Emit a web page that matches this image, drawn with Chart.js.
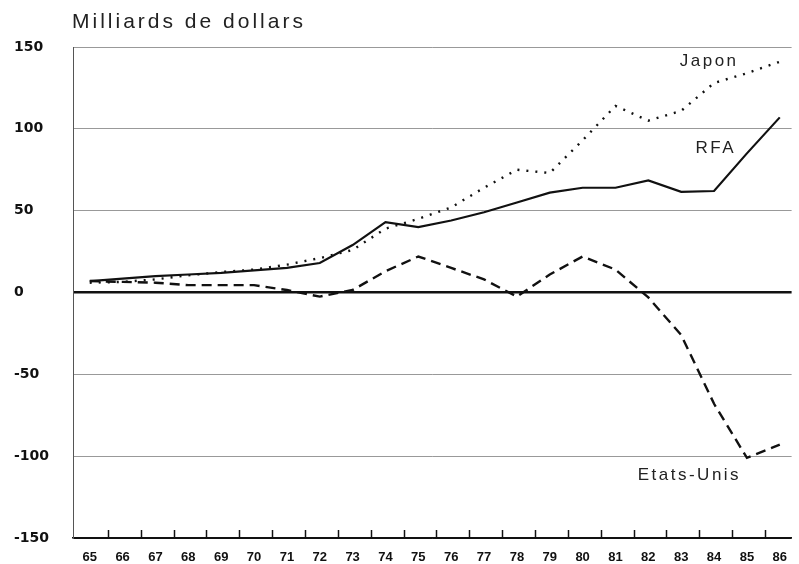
<!DOCTYPE html>
<html>
<head>
<meta charset="utf-8">
<script src="https://cdn.jsdelivr.net/npm/chart.js@4"></script>
<style>
  html, body { margin: 0; padding: 0; background: #fff; }
  #chart { display: block; }
</style>
</head>
<body>
<canvas id="chart" width="799" height="564"></canvas>
<script>
// données (milliards de dollars)
const years = [65, 66, 67, 68, 69, 70, 71, 72, 73, 74, 75, 76, 77, 78, 79, 80, 81, 82, 83, 84, 85, 86];
const rfa = [7, 8.5, 10, 11, 12, 13.5, 15, 18, 29, 43, 40, 44, 49, 55, 61, 64, 64, 68.5, 61.5, 62, 85, 107];
const japon = [6, 6.5, 8, 10.5, 12.5, 14, 17, 21, 26, 39, 45, 52, 64, 75, 73, 93, 114, 105, 111, 128, 134, 141];
const etatsUnis = [7, 6.5, 6, 4.5, 4.5, 4.5, 1.5, -2.5, 1.5, 13, 22, 15, 8, -2.5, 11, 22, 14, -3, -26, -68, -101, -93];
const yTicks = [-150, -100, -50, 0, 50, 100, 150];

const toPoints = arr => arr.map((v, i) => ({ x: years[i], y: v }));

// titre, noms des séries et petites marques de l'axe des x
const annotations = {
    id: 'annotations',
    afterDraw(chart) {
        const { ctx, chartArea, scales: { x, y } } = chart;
        ctx.save();
        ctx.fillStyle = '#222';
        ctx.textBaseline = 'middle';
        ctx.textAlign = 'left';
        ctx.letterSpacing = '3px';
        ctx.font = '21px "Liberation Sans", Arial, sans-serif';
        ctx.fillText('Milliards de dollars', 72, 22);

        ctx.letterSpacing = '2.5px';
        ctx.font = '17px "Liberation Sans", Arial, sans-serif';
        ctx.textAlign = 'center';
        ctx.fillText('Japon', x.getPixelForValue(83.85), y.getPixelForValue(141));
        ctx.fillText('RFA', x.getPixelForValue(84.05), y.getPixelForValue(88));
        ctx.fillText('Etats-Unis', x.getPixelForValue(83.25), y.getPixelForValue(-111.5));

        // marques verticales entre les années
        ctx.strokeStyle = '#111';
        ctx.lineWidth = 1.5;
        years.slice(0, -1).forEach(yr => {
            const px = Math.round(x.getPixelForValue(yr + 0.55)) + 0.5;
            ctx.beginPath();
            ctx.moveTo(px, chartArea.bottom);
            ctx.lineTo(px, chartArea.bottom - 8);
            ctx.stroke();
        });
        ctx.restore();
    }
};

const ctx = document.getElementById('chart').getContext('2d');
new Chart(ctx, {
    type: 'line',
    data: {
        datasets: [
            {
                label: 'RFA',
                data: toPoints(rfa),
                borderColor: '#111',
                borderWidth: 2.2,
                pointRadius: 0,
                tension: 0
            },
            {
                label: 'Japon',
                data: toPoints(japon),
                borderColor: '#111',
                borderWidth: 2.4,
                borderDash: [2, 7],
                pointRadius: 0,
                tension: 0
            },
            {
                label: 'Etats-Unis',
                data: toPoints(etatsUnis),
                borderColor: '#111',
                borderWidth: 2.4,
                borderDash: [10, 6],
                pointRadius: 0,
                tension: 0
            }
        ]
    },
    options: {
        responsive: false,
        animation: false,
        layout: {
            padding: { left: 14, top: 47, right: 0, bottom: 0 }
        },
        plugins: {
            legend: { display: false },
            tooltip: { enabled: false }
        },
        scales: {
            x: {
                type: 'linear',
                min: 64.49,
                max: 86.36,
                afterBuildTicks: scale => {
                    scale.ticks = years.map(v => ({ value: v }));
                },
                afterFit: scale => { scale.height = 26; },
                grid: { display: false, drawTicks: false },
                border: { display: true, color: '#111', width: 1.5 },
                ticks: {
                    autoSkip: false,
                    maxRotation: 0,
                    padding: 12,
                    color: '#111',
                    font: { family: '"Liberation Sans", Arial, sans-serif', size: 13, weight: 'bold' },
                    callback: v => String(v)
                }
            },
            y: {
                min: -150,
                max: 150,
                afterBuildTicks: scale => {
                    scale.ticks = yTicks.map(v => ({ value: v }));
                },
                afterFit: scale => { scale.width = 59; },
                grid: {
                    drawTicks: false,
                    color: c => c.tick.value === 0 ? '#111' : (c.tick.value === -150 ? '#111' : '#999'),
                    lineWidth: c => c.tick.value === 0 ? 2.6 : 1
                },
                border: { display: true, color: '#555', width: 1 },
                ticks: {
                    crossAlign: 'far',
                    color: '#111',
                    font: { family: '"DejaVu Sans", sans-serif', size: 14, weight: 'bold' },
                    callback: v => String(v)
                }
            }
        }
    },
    plugins: [annotations]
});
</script>
</body>
</html>
